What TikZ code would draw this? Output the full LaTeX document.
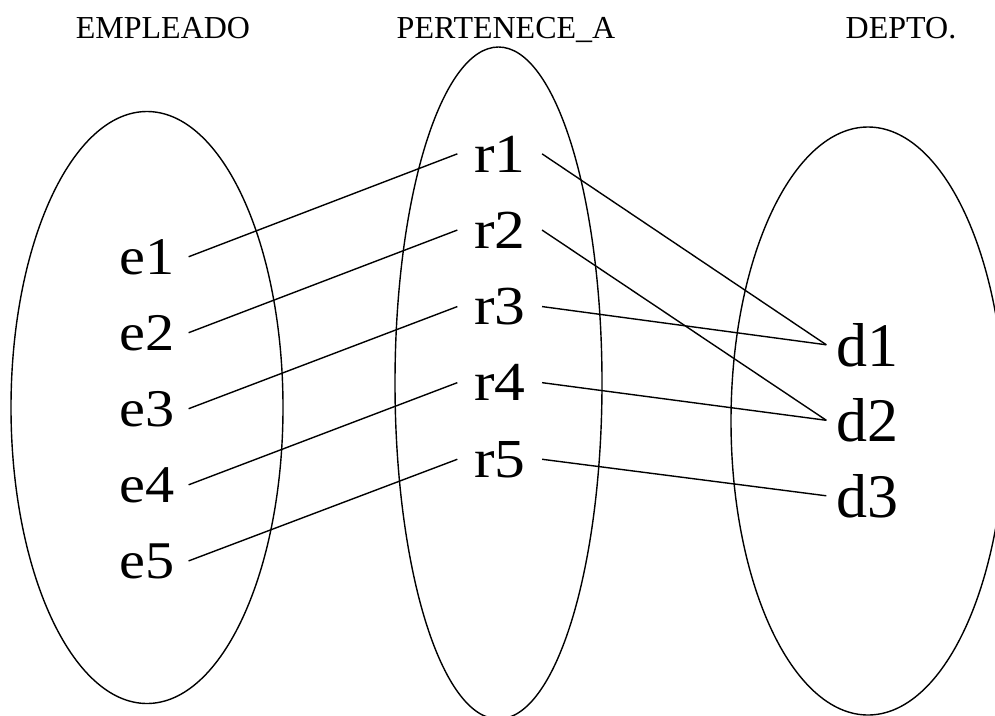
\documentclass[tikz,border=0pt]{standalone}
\usepackage{fontspec}
\setmainfont{Liberation Serif}
\usepackage{graphicx}
\newcommand{\widelbl}[2]{\scalebox{#1}[1]{#2}}

\begin{document}
\begin{tikzpicture}[x=1pt, y=-1pt, line width=1.4pt,
  titulo/.style={font=\fontsize{32}{38}\selectfont, anchor=base, inner sep=0pt},
  elabel/.style={font=\fontsize{53}{64}\selectfont, anchor=base, inner ysep=0pt, inner xsep=13pt},
  rlabel/.style={font=\fontsize{55}{66}\selectfont, anchor=base, inner ysep=0pt, inner xsep=16pt},
  dlabel/.style={font=\fontsize{62}{74}\selectfont, anchor=base, inner ysep=0pt, inner xsep=9.5pt}]
  \clip (0,0) rectangle (995,715);
  % Conjuntos
  \draw (147,407.5) ellipse [x radius=136, y radius=296];
  \draw (498.5,383) ellipse [x radius=103.5, y radius=336];
  \draw (868,421) ellipse [x radius=137, y radius=294];
  % Titulos
  \node[titulo] (tEmp) at (163,38) {EMPLEADO};
  \node[titulo] (tPer) at (506,38) {PERTENECE\_A};
  \node[titulo] (tDep) at (901,38) {DEPTO.};
  % Elementos
  \foreach \i in {1,...,5}{
    \node[elabel] (e\i) at (147.4,{274+76*(\i-1)}) {\widelbl{1.1}{e\i}};
    \node[rlabel] (r\i) at (499.7,{172+76.25*(\i-1)}) {\widelbl{1.12}{r\i}};
  }
  \foreach \i in {1,2,3}{
    \node[dlabel] (d\i) at (867.5,{366+75.5*(\i-1)}) {d\i};
  }
  % Relaciones
  \foreach \i in {1,...,5}{
    \draw (e\i.east) -- (r\i.west);
  }
  \foreach \ri/\di in {1/1,2/2,3/1,4/2,5/3}{
    \draw (r\ri.east) -- (d\di.west);
  }
\end{tikzpicture}
\end{document}
